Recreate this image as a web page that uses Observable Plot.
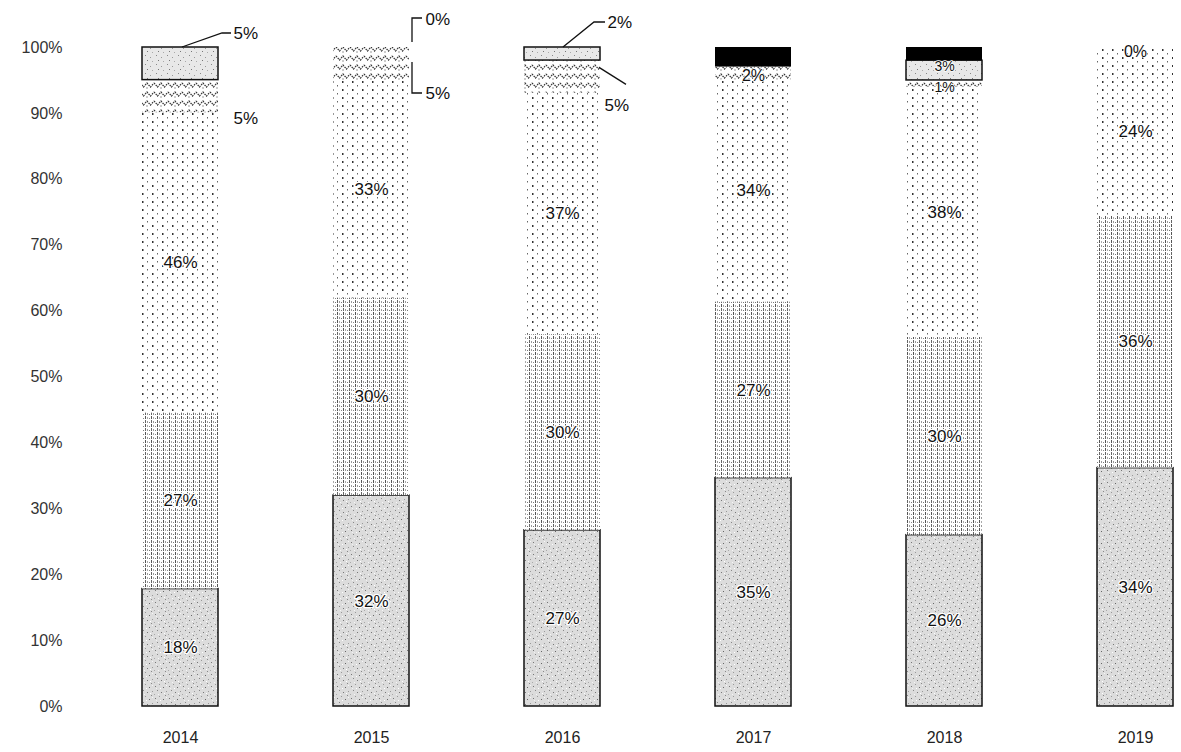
<!DOCTYPE html>
<html><head><meta charset="utf-8">
<script src="https://cdn.jsdelivr.net/npm/d3@7"></script>
<script src="https://cdn.jsdelivr.net/npm/@observablehq/plot@0.6"></script>
<style>body{margin:0;background:#fff;font-family:"Liberation Sans",Arial,sans-serif}</style>
</head><body><div id="chart"></div>
<script>
// ---- data (percent shares) ----
const years = ["2014", "2015", "2016", "2017", "2018", "2019"];
const seriesNames = ["Series 1", "Series 2", "Series 3", "Series 4", "Series 5", "Series 6"];
const series1 = [18, 32, 27, 35, 26, 34];
const series2 = [27, 30, 30, 27, 30, 36];
const series3 = [46, 33, 37, 34, 38, 24];
const series4 = [5, 5, 5, 2, 1, 0];
const series5 = [5, 0, 2, 0, 3, 0];
const series6 = [0, 0, 0, 3, 2, 0];
const yTicks = [0, 0.1, 0.2, 0.3, 0.4, 0.5, 0.6, 0.7, 0.8, 0.9, 1];

const allSeries = [series1, series2, series3, series4, series5, series6];
const table = years.flatMap((year, i) => seriesNames.map((s, j) => ({year, series: s, value: allSeries[j][i]})));

// normalized stack positions (for small-segment labels)
const stackPos = new Map();
years.forEach((year, i) => {
  const total = d3.sum(allSeries, s => s[i]);
  let cum = 0;
  seriesNames.forEach((s, j) => {
    const lo = cum / total; cum += allSeries[j][i]; const hi = cum / total;
    stackPos.set(year + "|" + s, {lo, hi, mid: (lo + hi) / 2});
  });
});

// ---- styling ----
const fills = ["url(#pA)", "url(#pB)", "url(#pC)", "url(#pD)", "url(#pE)", "#000"];
const outlined = new Set(["Series 1", "Series 5"]);
const isMain = d => ["Series 1", "Series 2", "Series 3"].includes(d.series);

// small labels inside the bars (pixel nudges, font sizes)
const insideSmall = [
  {year: "2017", series: "Series 4", dy: 2, size: 16},
  {year: "2018", series: "Series 5", dy: -4, size: 14},
  {year: "2018", series: "Series 4", dy: 4, size: 14},
  {year: "2019", series: "Series 4", dy: 4, size: 16}
];
// callouts: anchor = "top" of bar or "mid" of segment; offsets in pixels
const callouts = [
  {year: "2014", series: "Series 5", anchor: "top", dx: 53, dy: -14, leader: [[2, 0], [42, -14], [51, -14]]},
  {year: "2014", series: "Series 4", anchor: "mid", dx: 53, dy: 22, leader: null},
  {year: "2015", series: "Series 5", anchor: "top", dx: 54, dy: -28, leader: [[41, -5], [41, -29], [51, -29]]},
  {year: "2015", series: "Series 4", anchor: "top", dx: 54, dy: 46, leader: [[41, 15], [41, 46], [51, 46]]},
  {year: "2016", series: "Series 5", anchor: "top", dx: 45, dy: -25, leader: [[1, 0], [32, -25], [43, -25]]},
  {year: "2016", series: "Series 4", anchor: "mid", dx: 42, dy: 29, leader: [[37, -9], [64, 8]]}
];
const calloutY = c => c.anchor === "top" ? 1 : stackPos.get(c.year + "|" + c.series).mid;
const valueOf = c => table.find(d => d.year === c.year && d.series === c.series).value;

const chart = Plot.plot({
  width: 1181,
  height: 752,
  marginTop: 47,
  marginBottom: 46,
  marginLeft: 134,
  marginRight: 0,
  style: {fontFamily: "'Liberation Sans', Arial, sans-serif", fontSize: "16px", background: "white", color: "#222"},
  x: {domain: years, paddingInner: 0.6, paddingOuter: 0.033, label: null},
  y: {domain: [0, 1], label: null},
  color: {domain: seriesNames, range: fills},
  marks: [
    Plot.axisY({ticks: yTicks, tickFormat: d3.format(".0%"), tickSize: 0, tickPadding: 72, fontSize: 16, fill: "#333", label: null}),
    Plot.axisX({tickSize: 0, tickPadding: 25, fontSize: 16, fill: "#222", label: null}),
    Plot.barY(table, Plot.stackY({
      x: "year", y: "value", z: "series", offset: "normalize",
      fill: "series", stroke: "#111", strokeWidth: 1.5,
      strokeOpacity: d => (outlined.has(d.series) && d.value > 0) ? 1 : 0
    })),
    Plot.text(table, Plot.stackY({
      x: "year", y: "value", z: "series", offset: "normalize",
      text: d => isMain(d) ? d.value + "%" : "",
      fontSize: 17, fill: "#111", stroke: "white", strokeWidth: 2.5, paintOrder: "stroke"
    })),
    ...insideSmall.map(c => Plot.text([c], {
      x: "year", y: c2 => stackPos.get(c2.year + "|" + c2.series).mid, text: c2 => valueOf(c2) + "%",
      dy: c.dy, fontSize: c.size, fill: "#111", stroke: "white", strokeWidth: 1.5, paintOrder: "stroke"
    })),
    ...callouts.map(c => Plot.text([c], {
      x: "year", y: calloutY, text: c2 => valueOf(c2) + "%",
      dx: c.dx, dy: c.dy, textAnchor: "start", lineAnchor: "middle", fontSize: 17, fill: "#111"
    }))
  ]
});

// pattern definitions
const defs = `
<defs>
<pattern id="pA" width="14" height="12" patternUnits="userSpaceOnUse">
  <rect width="14" height="12" fill="#dcdcdc"/>
  <rect x="1" y="2" width="1" height="1" fill="#777"/>
  <rect x="5" y="0" width="1" height="1" fill="#999"/>
  <rect x="9" y="3" width="1" height="1" fill="#666"/>
  <rect x="3" y="6" width="1" height="1" fill="#888"/>
  <rect x="7" y="8" width="1" height="1" fill="#777"/>
  <rect x="12" y="7" width="1" height="1" fill="#999"/>
  <rect x="0" y="10" width="1" height="1" fill="#aaa"/>
  <rect x="11" y="11" width="1" height="1" fill="#888"/>
  <rect x="6" y="4" width="1" height="1" fill="#fff"/>
  <rect x="10" y="9" width="1" height="1" fill="#fff"/>
  <rect x="2" y="4" width="1" height="1" fill="#f2f2f2"/>
  <rect x="12" y="1" width="1" height="1" fill="#f6f6f6"/>
  <rect x="4" y="10" width="1" height="1" fill="#f6f6f6"/>
</pattern>
<pattern id="pB" width="6" height="8" patternUnits="userSpaceOnUse">
  <rect width="6" height="8" fill="#fff"/>
  <rect x="1" y="0" width="1" height="3" fill="#555"/>
  <rect x="1" y="4" width="1" height="3" fill="#666"/>
  <rect x="3" y="1" width="1" height="2" fill="#aaa"/>
  <rect x="3" y="5" width="1" height="2" fill="#999"/>
  <rect x="5" y="2" width="1" height="1" fill="#888"/>
  <rect x="5" y="6" width="1" height="1" fill="#777"/>
</pattern>
<pattern id="pC" width="10" height="8" patternUnits="userSpaceOnUse">
  <rect width="10" height="8" fill="#fff"/>
  <rect x="2" y="1" width="1.5" height="2" fill="#333"/>
  <rect x="7" y="5" width="1" height="1.5" fill="#666"/>
</pattern>
<pattern id="pD" width="14" height="9" patternUnits="userSpaceOnUse">
  <rect width="14" height="9" fill="#fff"/>
  <path d="M0,2 L3.5,6 L7,2 L10.5,6 L14,2" fill="none" stroke="#333" stroke-width="1.2" stroke-dasharray="1.6 1"/>
  <rect x="6.5" y="6.5" width="1" height="1" fill="#333"/>
</pattern>
<pattern id="pE" width="11" height="9" patternUnits="userSpaceOnUse">
  <rect width="11" height="9" fill="#e8e8e8"/>
  <rect x="2" y="1" width="1" height="1" fill="#888"/>
  <rect x="7" y="3" width="1" height="1" fill="#999"/>
  <rect x="4" y="6" width="1" height="1" fill="#777"/>
  <rect x="9" y="7" width="1" height="1" fill="#aaa"/>
</pattern>
</defs>`;
chart.insertAdjacentHTML("afterbegin", defs);

// leader lines, positioned through Plot's own scales
const sx = chart.scale("x"), sy = chart.scale("y");
const g = d3.select(chart).append("g").attr("fill", "none").attr("stroke", "#111").attr("stroke-width", 1.3);
callouts.filter(c => c.leader).forEach(c => {
  const cx = sx.apply(c.year) + sx.bandwidth / 2;
  const cy = sy.apply(calloutY(c));
  g.append("path").attr("d", d3.line()(c.leader.map(([ox, oy]) => [cx + ox, cy + oy])));
});

document.getElementById("chart").appendChild(chart);
</script>
</body></html>
